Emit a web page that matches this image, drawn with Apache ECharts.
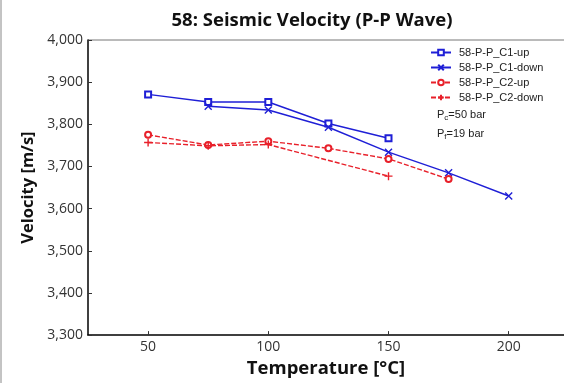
<!DOCTYPE html>
<html>
<head>
<meta charset="utf-8">
<script src="https://cdn.jsdelivr.net/npm/echarts@6/dist/echarts.min.js"></script>
<style>
  html, body { margin: 0; padding: 0; background: #fff; }
  #chart { width: 564px; height: 383px; }
</style>
</head>
<body>
<div id="chart"></div>
<script>
// temperatures (x) and velocities (y)
var tempC1up = [50, 75, 100, 125, 150]
var velC1up = [3871, 3853, 3853, 3802, 3767]
var tempC1down = [75, 100, 125, 150, 175, 200]
var velC1down = [3843, 3834, 3793, 3734, 3685, 3630]
var tempC2up = [50, 75, 100, 125, 150, 175]
var velC2up = [3775, 3751, 3760, 3743, 3718, 3670]
var tempC2down = [50, 75, 100, 150]
var velC2down = [3757, 3749, 3752, 3677]
var xTicks = [50, 100, 150, 200]
var names = ["58-P-P_C1-up", "58-P-P_C1-down", "58-P-P_C2-up", "58-P-P_C2-down"]

var blue = "#1f1fd6"
var red = "#e8202a"
var xPath = "path://M0,0L10,10M10,0L0,10"
var plusPath = "path://M5,0L5,10M0,5L10,5"

function pairs(xs, ys) {
  return xs.map(function (x, i) { return [x, ys[i]] })
}

function mkSeries(name, xs, ys, color, dashed, symbol, size) {
  return {
    type: "line",
    name: name,
    data: pairs(xs, ys),
    symbol: symbol,
    symbolSize: size,
    showAllSymbol: true,
    lineStyle: { color: color, width: 1.4, type: dashed ? [5, 2] : "solid" },
    itemStyle: { color: color, borderColor: color, borderWidth: 1.4 },
    emphasis: { disabled: true },
    animation: false
  }
}

var chart = echarts.init(document.getElementById("chart"))
chart.setOption({
  backgroundColor: "#fff",
  title: {
    text: "58: Seismic Velocity (P-P Wave)",
    left: 307, top: 6, textAlign: "center",
    textStyle: { fontFamily: "Open Sans", fontWeight: "bold", fontSize: 18.5, color: "#111" }
  },
  //图例
  legend: {
    orient: "vertical",
    left: 425, top: 42,
    itemWidth: 20, itemHeight: 7, itemGap: 4,
    data: names,
    textStyle: { fontFamily: "Liberation Sans", fontSize: 11, color: "#222", padding: [0, 0, 0, 3] }
  },
  grid: { left: 88, top: 40, right: 0, bottom: 45 },
  xAxis: {
    type: "value",
    min: 25, max: 223,
    name: "Temperature [°C]",
    nameLocation: "middle",
    nameGap: 20,
    nameTextStyle: { fontFamily: "Open Sans", fontWeight: "bold", fontSize: 18.5, color: "#111" },
    axisLine: { lineStyle: { color: "#000", width: 1.5 } },
    axisTick: { inside: true, length: 4, customValues: xTicks, lineStyle: { color: "#333" } },
    axisLabel: { customValues: xTicks, fontFamily: "Open Sans", fontSize: 14, color: "#333", margin: 5 },
    splitLine: { show: false }
  },
  yAxis: {
    type: "value",
    min: 3300, max: 4000, interval: 100,
    name: "Velocity [m/s]",
    nameLocation: "middle",
    nameGap: 49,
    nameTextStyle: { fontFamily: "Open Sans", fontWeight: "bold", fontSize: 16.5, color: "#111" },
    axisLine: { show: true, lineStyle: { color: "#000", width: 1.5 } },
    axisTick: { show: true, inside: true, length: 4, lineStyle: { color: "#333" } },
    axisLabel: {
      fontFamily: "Open Sans", fontSize: 14, color: "#333", margin: 5,
      formatter: function (v) { return v.toLocaleString("en-US") }
    },
    splitLine: { show: false }
  },
  graphic: [
    { type: "line", shape: { x1: 1, y1: 0, x2: 1, y2: 383 }, style: { stroke: "#888", lineWidth: 1 } },
    { type: "line", shape: { x1: 88, y1: 40, x2: 564, y2: 40 }, style: { stroke: "#777", lineWidth: 1 } },
    {
      type: "text", left: 437, top: 109,
      style: {
        text: "{a|P}{s|c}{a|=50 bar}",
        rich: {
          a: { fontFamily: "Liberation Sans", fontSize: 11, fill: "#222" },
          s: { fontFamily: "Liberation Sans", fontSize: 8, fill: "#222", padding: [6, 0, 0, 0] }
        }
      }
    },
    {
      type: "text", left: 437, top: 128,
      style: {
        text: "{a|P}{s|f}{a|=19 bar}",
        rich: {
          a: { fontFamily: "Liberation Sans", fontSize: 11, fill: "#222" },
          s: { fontFamily: "Liberation Sans", fontSize: 8, fill: "#222", padding: [6, 0, 0, 0] }
        }
      }
    }
  ],
  series: [
    mkSeries(names[0], tempC1up, velC1up, blue, false, "emptyRect", 6),
    mkSeries(names[1], tempC1down, velC1down, blue, false, xPath, 7),
    mkSeries(names[2], tempC2up, velC2up, red, true, "emptyCircle", 6),
    mkSeries(names[3], tempC2down, velC2down, red, true, plusPath, 8)
  ]
})
</script>
</body>
</html>
